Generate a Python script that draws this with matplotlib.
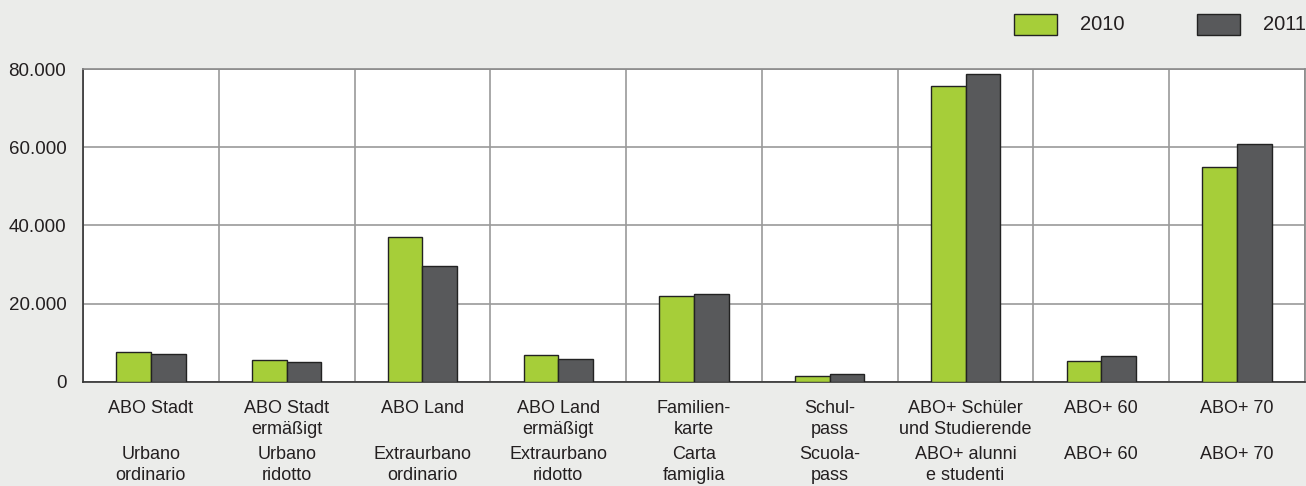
import numpy as np
import matplotlib.pyplot as plt
from matplotlib.patches import Rectangle

plt.rcParams['font.family'] = ['Liberation Sans', 'DejaVu Sans']

# Categorie (tedesco / italiano)
labels_de = ['ABO Stadt', 'ABO Stadt\nermäßigt', 'ABO Land', 'ABO Land\nermäßigt',
             'Familien-\nkarte', 'Schul-\npass', 'ABO+ Schüler\nund Studierende',
             'ABO+ 60', 'ABO+ 70']
labels_it = ['Urbano\nordinario', 'Urbano\nridotto', 'Extraurbano\nordinario',
             'Extraurbano\nridotto', 'Carta\nfamiglia', 'Scuola-\npass',
             'ABO+ alunni\ne studenti', 'ABO+ 60', 'ABO+ 70']

# Valori
val_2010 = [7500, 5550, 36900, 6800, 21850, 1400, 75650, 5300, 54850]
val_2011 = [7000, 5050, 29500, 5800, 22350, 1950, 78700, 6500, 60700]
yticks = [0, 20000, 40000, 60000, 80000]
ytick_labels = ['0', '20.000', '40.000', '60.000', '80.000']

green = '#a6ce39'
grey = '#58595b'
bg = '#ebecea'

W, H = 1306, 486
fig = plt.figure(figsize=(W / 100, H / 100), dpi=100, facecolor=bg)
ax = fig.add_axes([83 / W, (H - 381.7) / H, 1222 / W, 312.7 / H])
ax.set_facecolor('white')

x = np.arange(len(labels_de))
w = 0.255
ax.bar(x - w / 2, val_2010, w, color=green, edgecolor='#222222', linewidth=1, zorder=3)
ax.bar(x + w / 2, val_2011, w, color=grey, edgecolor='#222222', linewidth=1, zorder=3)

ax.set_xlim(-0.5, len(labels_de) - 0.5)
ax.set_ylim(0, 80000)
ax.set_yticks(yticks)
ax.set_yticklabels(ytick_labels, fontsize=13.5, color='#231f20')
ax.set_xticks(np.arange(len(labels_de) + 1) - 0.5)
ax.set_xticklabels([])
ax.tick_params(length=0, pad=12)
ax.grid(True, color='#9a9a9a', linewidth=1.2, zorder=0)

for s in ['top', 'right']:
    ax.spines[s].set_color('#8a8a8a')
    ax.spines[s].set_linewidth(1.2)
for s in ['left', 'bottom']:
    ax.spines[s].set_color('#333333')
    ax.spines[s].set_linewidth(1.2)

trans = ax.get_xaxis_transform()
for i in range(len(labels_de)):
    ax.text(x[i], -0.058, labels_de[i], transform=trans, ha='center', va='top',
            fontsize=13, color='#231f20', linespacing=1.3)
    ax.text(x[i], -0.205, labels_it[i], transform=trans, ha='center', va='top',
            fontsize=13, color='#231f20', linespacing=1.3)

# Legenda
for px, c, t in [(1014, green, '2010'), (1197, grey, '2011')]:
    fig.patches.append(Rectangle((px / W, 1 - 35 / H), 43 / W, 21 / H,
                                 transform=fig.transFigure, facecolor=c,
                                 edgecolor='#222222', linewidth=1))
    fig.text((px + 66) / W, 1 - 25 / H, t, fontsize=14.5, va='center', color='#231f20')

fig.savefig('out.png', dpi=100, facecolor=bg)
